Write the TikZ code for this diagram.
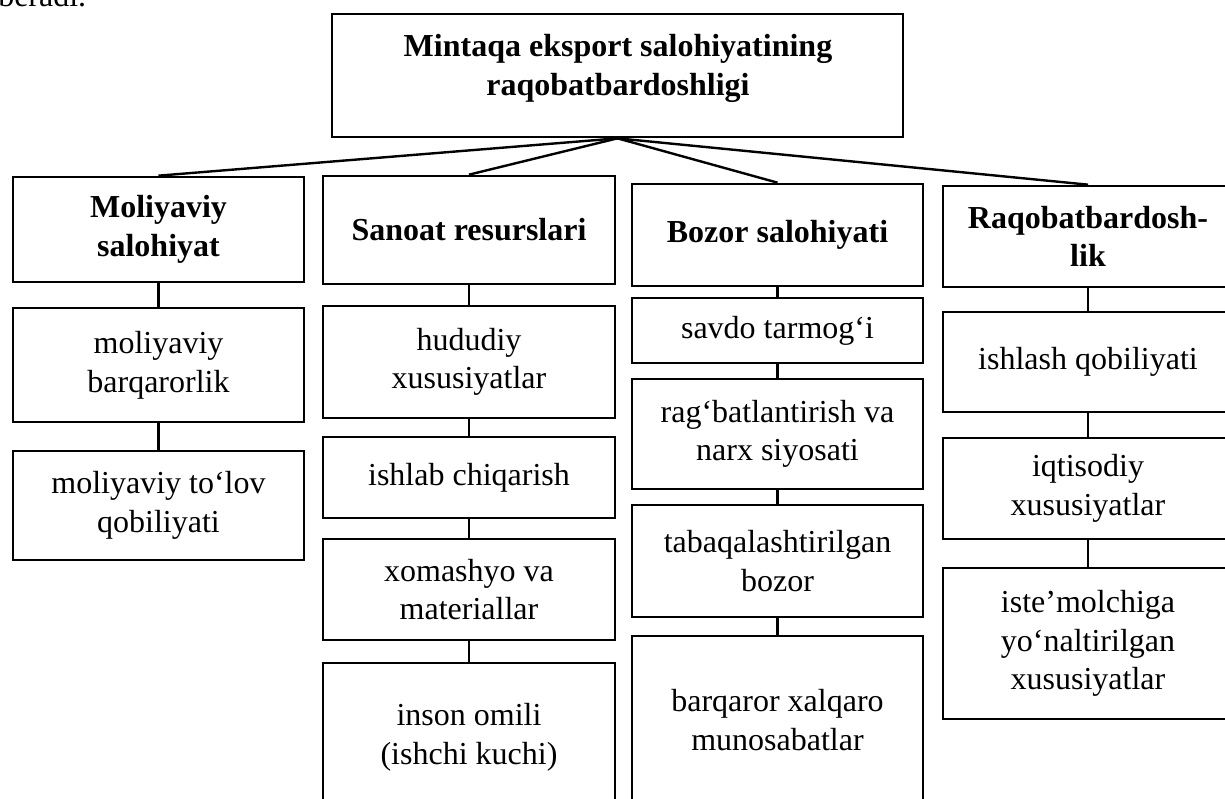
\documentclass[tikz,border=0pt]{standalone}
\usepackage{fontspec}
\setmainfont{Liberation Serif}
\begin{document}
\begin{tikzpicture}[x=0.75pt, y=-0.75pt,
  txt/.style={font=\fontsize{24}{29}\selectfont, align=center, inner sep=0pt},
  box/.style={txt, draw=black, line width=2pt, rectangle},
  head/.style={box, font=\fontsize{24}{29}\selectfont\bfseries},
  sz/.style 2 args={minimum width={#1*0.75pt}, minimum height={#2*0.75pt}},
  link/.style={draw=black, line width=1.8pt},
]
\useasboundingbox (0,0) rectangle (1225,799);
\clip (0,0) rectangle (1225,799);

% tail of the preceding paragraph
\node[txt, anchor=base west] (prev) at (-2,7) {beradi.};

% root
\node[box, sz={571}{123}] (top) at (617.5,75.5) {};
\node[txt, font=\fontsize{24}{29}\selectfont\bfseries] (toptext) at (618,68.7)
  {Mintaqa eksport salohiyatining\\raqobatbardoshligi};

% first level
\node[head, sz={291}{105}] (b1) at (158.5,229.5) {Moliyaviy\\salohiyat};
\node[head, sz={292}{108}] (b2) at (469,230) {Sanoat resurslari};
\node[head, sz={291}{102}] (b3) at (777.5,235) {Bozor salohiyati};
\node[head, sz={290}{101}] (b4) at (1088,236.5) {Raqobatbardosh-\\lik};

% column 1
\node[box, sz={291}{114}] (c11) at (158.5,365) {moliyaviy\\barqarorlik};
\node[box, sz={291}{109}] (c12) at (158.5,505.5) {moliyaviy to‘lov\\qobiliyati};

% column 2
\node[box, sz={292}{112}] (c21) at (469,362) {hududiy\\xususiyatlar};
\node[box, sz={292}{81}]  (c22) at (469,477.5) {ishlab chiqarish};
\node[box, sz={292}{101}] (c23) at (469,589.5) {xomashyo va\\materiallar};
\node[box, sz={292}{148}] (c24) at (469,737) {inson omili\\(ishchi kuchi)};

% column 3
\node[box, sz={291}{65}]  (c31) at (777.5,330.5) {savdo tarmog‘i};
\node[box, sz={291}{110}] (c32) at (777.5,434) {rag‘batlantirish va\\narx siyosati};
\node[box, sz={291}{112}] (c33) at (777.5,561) {tabaqalashtirilgan\\bozor};
\node[box, sz={291}{168}] (c34) at (777.5,720) {barqaror xalqaro\\munosabatlar};

% column 4
\node[box, sz={290}{100}] (c41) at (1088,362) {ishlash qobiliyati};
\node[box, sz={290}{101}] (c42) at (1088,488.5) {iqtisodiy\\xususiyatlar};
\node[box, sz={290}{151}] (c43) at (1088,643.5) {iste’molchiga\\yo‘naltirilgan\\xususiyatlar};

% root to first level
\draw[link] (top.south) -- (b1.north);
\draw[link] (top.south) -- (b2.north);
\draw[link] (top.south) -- (b3.north);
\draw[link] (top.south) -- (b4.north);

% vertical chains
\draw[link] (b1.south) -- (c11.north);
\draw[link] (c11.south) -- (c12.north);

\draw[link] (b2.south) -- (c21.north);
\draw[link] (c21.south) -- (c22.north);
\draw[link] (c22.south) -- (c23.north);
\draw[link] (c23.south) -- (c24.north);

\draw[link] (b3.south) -- (c31.north);
\draw[link] (c31.south) -- (c32.north);
\draw[link] (c32.south) -- (c33.north);
\draw[link] (c33.south) -- (c34.north);

\draw[link] (b4.south) -- (c41.north);
\draw[link] (c41.south) -- (c42.north);
\draw[link] (c42.south) -- (c43.north);
\end{tikzpicture}
\end{document}
